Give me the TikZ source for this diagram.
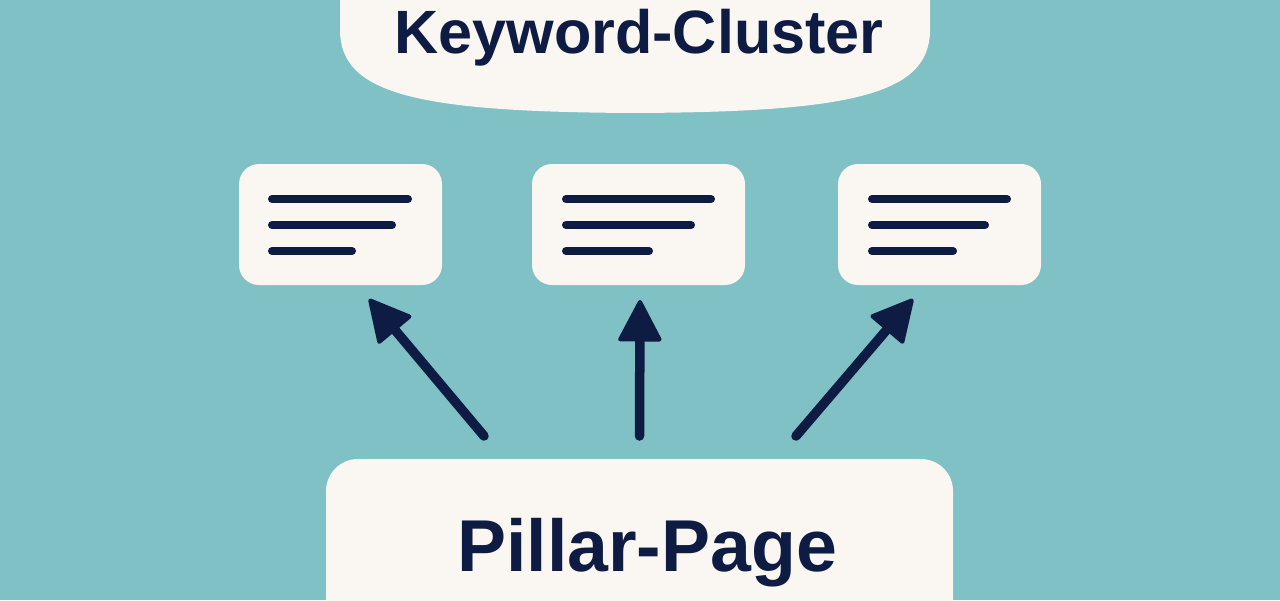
\documentclass[tikz,border=0pt]{standalone}
\usepackage{xcolor}
\usepackage{fontspec}
\usepackage{tikz}
\usetikzlibrary{arrows.meta,calc}
\setmainfont{Liberation Sans}
\definecolor{teal}{HTML}{7FC1C4}
\definecolor{cream}{HTML}{FAF6F1}
\definecolor{navy}{HTML}{0E1B42}

\begin{document}
\begin{tikzpicture}[
                        every node/.style={
                                inner sep=0pt,
                                outer sep=0pt,
                            },
                        card/.style={
                                fill=cream,
                                rounded corners=0.2cm,
                                minimum height=1.21cm,
                            },
                        label/.style={
                                anchor=base,
                                text=navy,
                                font=\bfseries,
                            },
                        pointer/.style={
                                draw=navy,
                                line width=0.095cm,
                                line cap=round,
                                -{Triangle[length=0.44cm,width=0.45cm,round,line width=1.2pt]},
                            },
                    ]

                    \useasboundingbox (0,0) rectangle (12.8,6);
                    \clip (0,0) rectangle (12.8,6);
                    \fill[teal] (0,0) rectangle (12.8,6);

                    \fill[cream] (3.4,6.2) -- (3.4,5.7)
                    .. controls (3.4,5.05) and (4.2,4.88) .. (6.35,4.87)
                    .. controls (8.5,4.88) and (9.3,5.05) .. (9.3,5.7)
                    -- (9.3,6.2) -- cycle;

                    \node[label,font=\bfseries\fontsize{17.4}{20}\selectfont] (clusterlabel) at (6.39,5.46) {Keyword-Cluster};

                    \node[card,minimum width=2.03cm] (cardleft) at (3.405,3.755) {};
                    \node[card,minimum width=2.13cm] (cardmid) at (6.385,3.755) {};
                    \node[card,minimum width=2.03cm] (cardright) at (9.395,3.755) {};

                    \foreach \x/\a/\b/\c in {2.72/4.08/3.92/3.52,5.66/7.11/6.91/6.49,8.72/10.07/9.85/9.53}{
                            \draw[navy,line width=0.08cm,line cap=round] (\x,4.01) -- (\a,4.01);
                            \draw[navy,line width=0.08cm,line cap=round] (\x,3.75) -- (\b,3.75);
                            \draw[navy,line width=0.08cm,line cap=round] (\x,3.49) -- (\c,3.49);
                        }

                    \node[fill=cream,rounded corners=0.32cm,minimum width=6.27cm,minimum height=1.81cm] (pillarbox) at (6.395,0.505) {};
                    \node[label,font=\bfseries\fontsize{20.9}{24}\selectfont] (pillarlabel) at (6.47,0.29) {Pillar-Page};

                    \coordinate (baseleft) at ($(pillarbox.north)+(-1.555,0.23)$);
                    \coordinate (basemid) at ($(pillarbox.north)+(0,0.23)$);
                    \coordinate (baseright) at ($(pillarbox.north)+(1.565,0.23)$);

                    \coordinate (tipleft) at ($(cardleft.south)+(0.285,-0.14)$);
                    \coordinate (tipmid) at ($(cardmid.south)+(0.015,-0.15)$);
                    \coordinate (tipright) at ($(cardright.south)+(-0.265,-0.14)$);

                    \draw[pointer] (baseleft) -- (tipleft);
                    \draw[pointer] (basemid) -- (tipmid);
                    \draw[pointer] (baseright) -- (tipright);
                \end{tikzpicture}
\end{document}
